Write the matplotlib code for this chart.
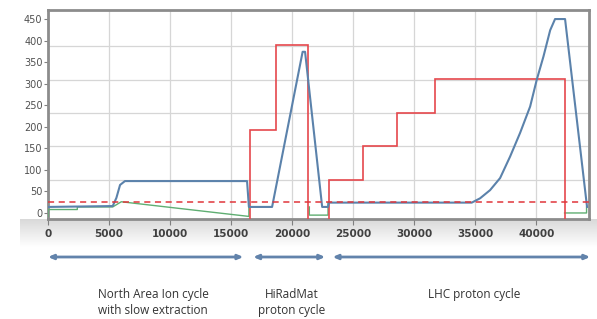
import numpy as np
import matplotlib
matplotlib.use("Agg")
import matplotlib.pyplot as plt
from matplotlib.colors import LinearSegmentedColormap

# ---------------- data ----------------
blue_x = [0, 5300, 5600, 5900, 6300, 16300, 16450, 18350, 20850, 21050,
          22450, 22930, 23000, 34700, 35380, 36200, 37020, 37840, 38660, 39480,
          40020, 40570, 41120, 41520, 42340, 44140]
blue_y = [14, 16, 35, 65, 74, 74, 14, 14, 374, 374,
          14, 14, 24, 24, 34, 53, 81, 131, 186, 247,
          309, 363, 424, 450, 450, 14]

green_x = [0, 0, 2400, 2400, 5300, 6000, 16450, 16450, np.nan,
           21400, 21400, 22930, 22930, np.nan,
           42300, 44100, 44100]
green_y = [-8, 8, 8, 14, 14, 26, -8, 14, np.nan,
           14, -5, -5, 24, np.nan,
           0, 0, 14]

red_hrm_edges = [16540, 18670, 21300]
red_hrm_levels = [192, 390]
red_lhc_edges = [23010, 25800, 28580, 31700, 42300]
red_lhc_levels = [76.5, 155, 232, 311]
red_threshold = 25.5

x_ticks = [0, 5000, 10000, 15000, 20000, 25000, 30000, 35000, 40000]
y_ticks = [0, 50, 100, 150, 200, 250, 300, 350, 400, 450]
y_grid = [0, 77.3, 154.6, 231.9, 309.2, 386.5]

cycle_bounds = [(0, 16000), (16800, 22700), (23300, 44400)]
cycle_labels = ["North Area Ion cycle\nwith slow extraction",
                "HiRadMat\nproton cycle",
                "LHC proton cycle"]
cycle_label_x = [8600, 19980, 34890]

# ---------------- figure ----------------
W, H = 597, 319
fig = plt.figure(figsize=(W / 100, H / 100), dpi=100)
fig.patch.set_facecolor("white")

# gray gradient band under the x axis
band = fig.add_axes([20 / W, 1 - 247 / H, 577 / W, 28 / H], zorder=-1)
cmap = LinearSegmentedColormap.from_list("band", ["#d9d9d9", "#ffffff"])
band.imshow(np.linspace(0, 1, 64).reshape(-1, 1), aspect="auto", cmap=cmap,
            extent=[0, 1, 0, 1])
band.axis("off")

ax = fig.add_axes([48 / W, 1 - 219 / H, (589 - 48) / W, (219 - 10) / H])
ax.set_facecolor("white")
ax.set_xlim(0, 44300)
ax.set_ylim(-14, 471)

ax.plot(blue_x, blue_y, color="#5b82ab", lw=1.5, zorder=4)
ax.plot(green_x, green_y, color="#5fae72", lw=1.0, zorder=3)
ax.stairs(red_hrm_levels, red_hrm_edges, baseline=-30, color="#e5484d", lw=1.2, zorder=3)
ax.stairs(red_lhc_levels, red_lhc_edges, baseline=-30, color="#e5484d", lw=1.2, zorder=3)
ax.axhline(red_threshold, color="#e0363b", lw=1.1, ls=(0, (4, 3)), zorder=5)

# axes styling
ax.set_xticks(x_ticks)
ax.set_xticklabels([str(v) for v in x_ticks], fontsize=7.5, fontweight="bold", color="#404040")
ax.set_yticks(y_ticks)
ax.set_yticklabels([str(v) for v in y_ticks], fontsize=7, color="#505050")
ax.set_yticks(y_grid, minor=True)
ax.tick_params(axis="x", length=4, width=0.8, color="#808080", pad=3)
ax.tick_params(axis="y", which="major", length=3, width=0.8, color="#808080", pad=1)
ax.tick_params(axis="y", which="minor", length=0)
ax.grid(axis="x", which="major", color="#d6d6d6", lw=0.9)
ax.grid(axis="y", which="minor", color="#d6d6d6", lw=0.9)
ax.set_axisbelow(True)
for s in ax.spines.values():
    s.set_color("#8c8c8c")
    s.set_linewidth(2)

# cycle arrows and labels
trans = ax.get_xaxis_transform()
arrow_y = (219 - 257) / (219 - 10)
for (x0, x1) in cycle_bounds:
    ax.annotate("", xy=(x1, arrow_y), xytext=(x0, arrow_y), xycoords=trans,
                textcoords=trans, annotation_clip=False,
                arrowprops=dict(arrowstyle="<|-|>,head_length=0.3,head_width=0.13",
                                color="#6283ab", lw=2.0, shrinkA=0, shrinkB=0))

label_y = (219 - 288) / (219 - 10)
for lx, lab in zip(cycle_label_x, cycle_labels):
    ax.text(lx, label_y, lab, transform=trans, ha="center", va="top",
            fontsize=8.5, family="Open Sans", color="#333333", linespacing=1.3,
            clip_on=False)

fig.savefig("out.png", dpi=100)
